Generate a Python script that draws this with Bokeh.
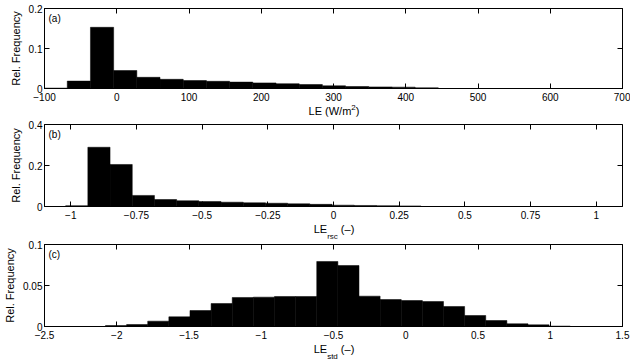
from bokeh.plotting import figure
from bokeh.layouts import column
from bokeh.models import Range1d, FixedTicker, LinearAxis, Label, ColumnDataSource, Div
from bokeh.embed import file_html
from bokeh.resources import INLINE
import numpy as np

# ---------------- data ----------------
# Panel (a): LE (W/m2)
le_bin_start = -100.6
le_bin_width = 32.1
le_freq = [0.001, 0.0185, 0.153, 0.045, 0.028, 0.023, 0.020, 0.018, 0.016,
           0.014, 0.012, 0.010, 0.0067, 0.005, 0.004, 0.0034, 0.0017]
le_xticks = [-100, 0, 100, 200, 300, 400, 500, 600, 700]
le_xtick_labels = ["\u2212100", "0", "100", "200", "300", "400", "500", "600", "700"]
le_yticks = [0, 0.1, 0.2]
le_ytick_labels = ["0", "0.1", "0.2"]

# Panel (b): LE_rsc (-)
rsc_bin_start = -1.0195
rsc_bin_width = 0.0845
rsc_freq = [0.004, 0.289, 0.205, 0.054, 0.034, 0.028, 0.024, 0.021, 0.018,
            0.016, 0.013, 0.0105, 0.0065, 0.005, 0.004, 0.003]
rsc_xticks = [-1, -0.75, -0.5, -0.25, 0, 0.25, 0.5, 0.75, 1]
rsc_xtick_labels = ["\u22121", "\u22120.75", "\u22120.5", "\u22120.25", "0",
                    "0.25", "0.5", "0.75", "1"]
rsc_yticks = [0, 0.2, 0.4]
rsc_ytick_labels = ["0", "0.2", "0.4"]

# Panel (c): LE_std (-)
std_bin_start = -2.078
std_bin_width = 0.1462
std_freq = [0.0012, 0.0024, 0.0065, 0.0118, 0.0195, 0.028, 0.0354, 0.0358,
            0.0366, 0.0366, 0.0793, 0.0744, 0.037, 0.0329, 0.0317, 0.0305,
            0.0244, 0.0134, 0.0073, 0.0033, 0.002, 0.0005]
std_xticks = [-2.5, -2, -1.5, -1, -0.5, 0, 0.5, 1, 1.5]
std_xtick_labels = ["\u22122.5", "\u22122", "\u22121.5", "\u22121", "\u22120.5",
                    "0", "0.5", "1", "1.5"]
std_yticks = [0, 0.05, 0.1]
std_ytick_labels = ["0", "0.05", "0.1"]

FONT = "Liberation Sans"


def make_panel(freq, bin_start, bin_width, xr, yr, xticks, xlabels, yticks, ylabels,
               height, top_b, frame_h, tag):
    p = figure(width=630, height=height, output_backend="svg", toolbar_location=None,
               x_range=Range1d(*xr), y_range=Range1d(*yr),
               min_border_left=44, min_border_right=8, min_border_top=top_b,
               min_border_bottom=height - top_b - frame_h)
    p.background_fill_color = "white"
    p.border_fill_color = "white"
    p.grid.visible = False
    p.outline_line_color = "black"
    p.outline_line_width = 1

    n = len(freq)
    edges = bin_start + bin_width * np.arange(n + 1)
    src = ColumnDataSource(dict(left=edges[:-1], right=edges[1:], top=freq,
                                bottom=[0] * n))
    p.quad(left="left", right="right", top="top", bottom="bottom", source=src,
           fill_color="black", line_color="black", line_width=0.5)

    for ax, ticks, labels in ((p.xaxis[0], xticks, xlabels), (p.yaxis[0], yticks, ylabels)):
        ax.ticker = FixedTicker(ticks=ticks)
        ax.major_label_overrides = {t: l for t, l in zip(ticks, labels)}
        ax.major_tick_in = 5
        ax.major_tick_out = 0
        ax.minor_tick_line_color = None
        ax.axis_line_color = "black"
        ax.major_tick_line_color = "black"
        ax.major_label_text_font = FONT
        ax.major_label_text_font_size = "10px"
        ax.major_label_text_color = "black"
    p.xaxis[0].major_label_standoff = 4
    p.yaxis[0].major_label_standoff = 2
    p.yaxis[0].axis_label = "Rel. Frequency"
    p.yaxis[0].axis_label_text_font = FONT
    p.yaxis[0].axis_label_text_font_size = "11px"
    p.yaxis[0].axis_label_text_font_style = "normal"
    p.yaxis[0].axis_label_standoff = 4
    p.yaxis[0].axis_label_text_color = "black"

    # mirrored tick marks on top and right (box on)
    for loc, ticks in (("above", xticks), ("right", yticks)):
        ax = LinearAxis(ticker=FixedTicker(ticks=ticks),
                        major_label_overrides={t: "" for t in ticks},
                        major_label_text_font_size="0px", major_label_standoff=0,
                        major_tick_in=5, major_tick_out=0,
                        minor_tick_line_color=None, axis_line_color=None)
        p.add_layout(ax, loc)

    # panel tag
    p.add_layout(Label(x=xr[0], y=yr[1], x_offset=4, y_offset=-4, text=tag,
                       text_font=FONT, text_font_size="10px", text_baseline="top",
                       text_align="left", text_color="black"))
    return p


def axis_title(main, script, after, shift, height, pad_top):
    html = (
        f'<div style="box-sizing:border-box;width:630px;padding-left:38px;'
        f'padding-top:{pad_top}px;text-align:center;font-family:\'{FONT}\';'
        f'font-size:11px;line-height:10px;color:black;white-space:nowrap;">'
        f'{main}<span style="font-size:8px;position:relative;top:{shift}px;">{script}</span>'
        f'{after}</div>'
    )
    return Div(text=html, width=630, height=height, margin=(0, 0, 0, 0))


pa = make_panel(le_freq, le_bin_start, le_bin_width, (-100, 700), (0, 0.2),
                le_xticks, le_xtick_labels, le_yticks, le_ytick_labels,
                103, 8, 80, "(a)")
ta = axis_title("LE (W/m", "2", ")", -5, 13, 3)
pb = make_panel(rsc_freq, rsc_bin_start, rsc_bin_width, (-1.1, 1.1), (0, 0.4),
                rsc_xticks, rsc_xtick_labels, rsc_yticks, rsc_ytick_labels,
                105, 8, 82, "(b)")
tb = axis_title("LE", "rsc", " (\u2013)", 6, 17, 0)
pc = make_panel(std_freq, std_bin_start, std_bin_width, (-2.5, 1.5), (0, 0.1),
                std_xticks, std_xtick_labels, std_yticks, std_ytick_labels,
                103, 6, 82, "(c)")
tc = axis_title("LE", "std", " (\u2013)", 6, 20, 0)

layout = column(pa, ta, pb, tb, pc, tc, spacing=0)
open("out.html", "w").write(file_html(layout, INLINE))
